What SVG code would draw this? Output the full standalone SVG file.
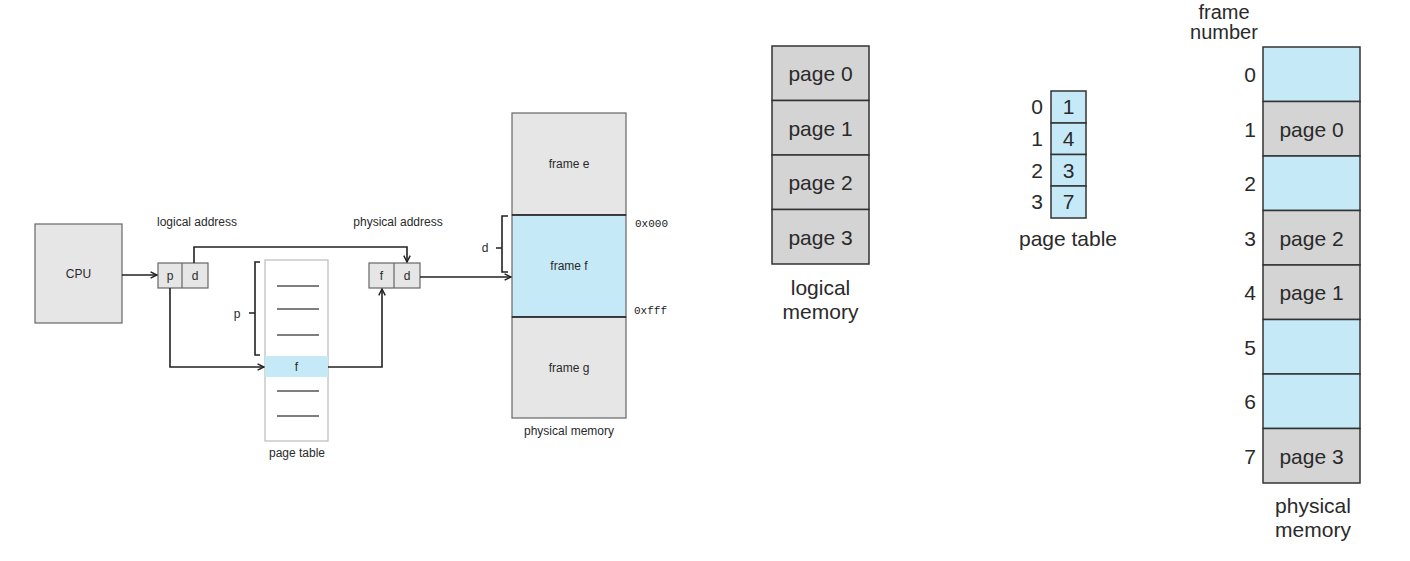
<svg xmlns="http://www.w3.org/2000/svg" width="1410" height="561" viewBox="0 0 1410 561">
<style>
.t{font-family:"Liberation Sans",Arial,sans-serif;fill:#2a2a2a}
.s{font-size:12px}
.b{font-size:21px}
.fn{font-size:20px}
.m{font-family:"Liberation Mono","Courier New",monospace;font-size:11px;fill:#222}
.g1{fill:#e6e6e6;stroke:#666;stroke-width:1.2}
.bl{fill:#c6e9f8}
.ln{fill:none;stroke:#222;stroke-width:1.6}
.dash{stroke:#555;stroke-width:1.3}
.g2{fill:#d4d4d4;stroke:#333;stroke-width:1.5}
.b2{fill:#c6e9f8;stroke:#333;stroke-width:1.5}
</style>
<defs>
<marker id="ar" viewBox="0 0 10 10" refX="9" refY="5" markerWidth="8" markerHeight="8" markerUnits="userSpaceOnUse" orient="auto">
<path d="M1,1 L9,5 L1,9" fill="none" stroke="#222" stroke-width="1.8"/>
</marker>
</defs>
<rect width="1410" height="561" fill="#fff"/>

<g id="cpu">
<rect class="g1" x="35" y="224" width="87" height="99"/>
<text class="t s" x="78.5" y="278" text-anchor="middle">CPU</text>
</g>

<g id="logical-address">
<text class="t s" x="197" y="226" text-anchor="middle">logical address</text>
<rect class="g1" x="158" y="263" width="50" height="25"/>
<line x1="182" y1="263" x2="182" y2="288" stroke="#666" stroke-width="1.2"/>
<text class="t s" x="170" y="280" text-anchor="middle">p</text>
<text class="t s" x="195" y="280" text-anchor="middle">d</text>
</g>

<g id="physical-address">
<text class="t s" x="398" y="226" text-anchor="middle">physical address</text>
<rect class="g1" x="369" y="263" width="51" height="25"/>
<line x1="394" y1="263" x2="394" y2="288" stroke="#666" stroke-width="1.2"/>
<text class="t s" x="381.5" y="280" text-anchor="middle">f</text>
<text class="t s" x="407" y="280" text-anchor="middle">d</text>
</g>

<g id="page-table-left">
<rect x="265" y="260" width="63" height="181" fill="#fff" stroke="#bbb" stroke-width="1.2"/>
<rect class="bl" x="265" y="356" width="63" height="21"/>
<text class="t s" x="296.5" y="371" text-anchor="middle">f</text>
<line class="dash" x1="277" y1="286" x2="319" y2="286"/>
<line class="dash" x1="277" y1="309" x2="319" y2="309"/>
<line class="dash" x1="277" y1="335" x2="319" y2="335"/>
<line class="dash" x1="277" y1="391" x2="319" y2="391"/>
<line class="dash" x1="277" y1="416" x2="319" y2="416"/>
<text class="t s" x="297" y="457" text-anchor="middle">page table</text>
<path class="ln" d="M260,262 H255 V355 H260 M255,313 H249"/>
<text class="t s" x="237" y="318" text-anchor="middle">p</text>
</g>

<g id="physical-memory-left">
<rect class="g1" x="512" y="113" width="114" height="102"/>
<rect x="512" y="215" width="114" height="102" fill="#c6e9f8" stroke="#666" stroke-width="1.2"/>
<rect class="g1" x="512" y="317" width="114" height="101"/>
<line x1="512" y1="215" x2="626" y2="215" stroke="#222" stroke-width="1.6"/>
<line x1="512" y1="317" x2="626" y2="317" stroke="#222" stroke-width="1.6"/>
<text class="t s" x="569" y="168" text-anchor="middle">frame e</text>
<text class="t s" x="569" y="270" text-anchor="middle">frame f</text>
<text class="t s" x="569" y="372" text-anchor="middle">frame g</text>
<text class="m" x="635" y="227">0x000</text>
<text class="m" x="634" y="314">0xfff</text>
<text class="t s" x="569" y="435" text-anchor="middle">physical memory</text>
<path class="ln" d="M508,216 H502 V272 H508 M502,248 H496"/>
<text class="t s" x="485" y="252" text-anchor="middle">d</text>
</g>

<g id="connectors">
<line class="ln" x1="122" y1="275" x2="157" y2="275" marker-end="url(#ar)"/>
<path class="ln" d="M194,263 V247 H407 V262" marker-end="url(#ar)"/>
<path class="ln" d="M170,288 V367 H264" marker-end="url(#ar)"/>
<path class="ln" d="M328,367 H382 V289" marker-end="url(#ar)"/>
<line class="ln" x1="420" y1="277" x2="511" y2="277" marker-end="url(#ar)"/>
</g>

<g id="logical-memory">
<rect class="g2" x="772" y="46" width="97" height="54.5"/>
<rect class="g2" x="772" y="100.5" width="97" height="54.5"/>
<rect class="g2" x="772" y="155" width="97" height="54.5"/>
<rect class="g2" x="772" y="209.5" width="97" height="54.5"/>
<text class="t b" x="820.5" y="81" text-anchor="middle">page 0</text>
<text class="t b" x="820.5" y="135.5" text-anchor="middle">page 1</text>
<text class="t b" x="820.5" y="190" text-anchor="middle">page 2</text>
<text class="t b" x="820.5" y="244.5" text-anchor="middle">page 3</text>
<text class="t b" x="820.5" y="295" text-anchor="middle">logical</text>
<text class="t b" x="820.5" y="319" text-anchor="middle">memory</text>
</g>

<g id="page-table-right">
<rect class="b2" x="1051" y="91" width="35" height="32"/>
<rect class="b2" x="1051" y="123" width="35" height="31.5"/>
<rect class="b2" x="1051" y="154.5" width="35" height="31.5"/>
<rect class="b2" x="1051" y="186" width="35" height="32"/>
<text class="t b" x="1068.5" y="114" text-anchor="middle">1</text>
<text class="t b" x="1068.5" y="146" text-anchor="middle">4</text>
<text class="t b" x="1068.5" y="177.5" text-anchor="middle">3</text>
<text class="t b" x="1068.5" y="209" text-anchor="middle">7</text>
<text class="t b" x="1043" y="114" text-anchor="end">0</text>
<text class="t b" x="1043" y="146" text-anchor="end">1</text>
<text class="t b" x="1043" y="177.5" text-anchor="end">2</text>
<text class="t b" x="1043" y="209" text-anchor="end">3</text>
<text class="t b" x="1068" y="246" text-anchor="middle">page table</text>
</g>

<g id="physical-memory-right">
<text class="t fn" x="1224" y="19" text-anchor="middle">frame</text>
<text class="t fn" x="1224" y="39" text-anchor="middle">number</text>
<rect class="b2" x="1263" y="47" width="97" height="54.5"/>
<rect class="g2" x="1263" y="101.5" width="97" height="54.5"/>
<rect class="b2" x="1263" y="156" width="97" height="54.5"/>
<rect class="g2" x="1263" y="210.5" width="97" height="54.5"/>
<rect class="g2" x="1263" y="265" width="97" height="54.5"/>
<rect class="b2" x="1263" y="319.5" width="97" height="54.5"/>
<rect class="b2" x="1263" y="374" width="97" height="54.5"/>
<rect class="g2" x="1263" y="428.5" width="97" height="54.5"/>
<text class="t b" x="1311.5" y="136.5" text-anchor="middle">page 0</text>
<text class="t b" x="1311.5" y="245.5" text-anchor="middle">page 2</text>
<text class="t b" x="1311.5" y="300" text-anchor="middle">page 1</text>
<text class="t b" x="1311.5" y="463.5" text-anchor="middle">page 3</text>
<text class="t b" x="1256" y="82" text-anchor="end">0</text>
<text class="t b" x="1256" y="136.5" text-anchor="end">1</text>
<text class="t b" x="1256" y="191" text-anchor="end">2</text>
<text class="t b" x="1256" y="245.5" text-anchor="end">3</text>
<text class="t b" x="1256" y="300" text-anchor="end">4</text>
<text class="t b" x="1256" y="354.5" text-anchor="end">5</text>
<text class="t b" x="1256" y="409" text-anchor="end">6</text>
<text class="t b" x="1256" y="463.5" text-anchor="end">7</text>
<text class="t b" x="1313" y="513" text-anchor="middle">physical</text>
<text class="t b" x="1313" y="537" text-anchor="middle">memory</text>
</g>
</svg>
